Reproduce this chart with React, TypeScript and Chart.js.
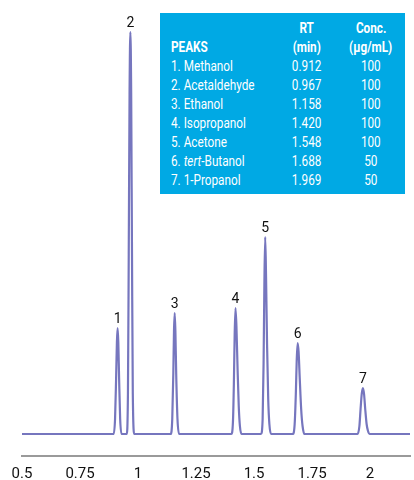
import React, { useEffect, useRef } from "react";
import { Chart, registerables } from "chart.js";

Chart.register(...registerables);

const FONT = "Roboto, 'Noto Sans', 'DejaVu Sans', sans-serif";

// Chromatogram trace (retention time in min, detector signal in arbitrary units)
const times = [
  0.5, 0.7, 0.895, 0.901, 0.9055, 0.909, 0.912, 0.915, 0.9185, 0.923, 0.929,
  0.94, 0.951, 0.9565, 0.96, 0.9635, 0.967, 0.9705, 0.974, 0.9775, 0.984,
  1.05, 1.141, 1.1475, 1.152, 1.155, 1.158, 1.161, 1.1645, 1.17, 1.177,
  1.3, 1.402, 1.409, 1.413, 1.4165, 1.42, 1.424, 1.429, 1.434, 1.439, 1.446,
  1.49, 1.53, 1.537, 1.541, 1.5445, 1.548, 1.5515, 1.556, 1.561, 1.566, 1.573,
  1.62, 1.667, 1.675, 1.68, 1.684, 1.688, 1.692, 1.697, 1.703, 1.709, 1.717,
  1.85, 1.946, 1.954, 1.959, 1.964, 1.969, 1.974, 1.979, 1.985, 1.991, 1.999,
  2.172,
];
const signal = [
  0, 0, 0, 15, 55, 92, 106, 92, 55, 15, 0,
  0, 0, 40, 180, 340, 402, 340, 180, 40, 0,
  0, 0, 15, 60, 103, 121, 103, 60, 15, 0,
  0, 0, 12, 50, 100, 126, 108, 65, 28, 8, 0,
  0, 0, 15, 70, 150, 197, 160, 90, 35, 10, 0,
  0, 0, 10, 40, 75, 91, 82, 55, 25, 8, 0,
  0, 0, 8, 25, 40, 46, 40, 25, 10, 3, 0,
  0,
];

// Peak table
const peakNumbers = ["1", "2", "3", "4", "5", "6", "7"];
const peakNames = ["Methanol", "Acetaldehyde", "Ethanol", "Isopropanol", "Acetone", "tert-Butanol", "1-Propanol"];
const peakRT = [0.912, 0.967, 1.158, 1.42, 1.548, 1.688, 1.969];
const peakRTLabels = ["0.912", "0.967", "1.158", "1.420", "1.548", "1.688", "1.969"];
const peakConc = [100, 100, 100, 100, 100, 50, 50];
const peakHeights = [106, 402, 121, 126, 197, 91, 46];

// Axis
const xTickValues = [0.5, 0.75, 1, 1.25, 1.5, 1.75, 2];
const xTickLabels = ["0.5", "0.75", "1", "1.25", "1.5", "1.75", "2"];

const peakLabelPlugin = {
  id: "peakLabels",
  afterDatasetsDraw(chart: any) {
    const { ctx, scales } = chart;
    const x = scales.x;
    const y = scales.y;
    ctx.save();
    ctx.font = `14px ${FONT}`;
    ctx.fillStyle = "#111111";
    ctx.textAlign = "center";
    ctx.textBaseline = "alphabetic";
    peakRT.forEach((rt, i) => {
      ctx.fillText(peakNumbers[i], x.getPixelForValue(rt), y.getPixelForValue(peakHeights[i]) - 5);
    });
    ctx.restore();
  },
};

function renderName(name: string) {
  if (name.startsWith("tert-")) {
    return (
      <>
        <i>tert</i>
        {name.slice(4)}
      </>
    );
  }
  return name;
}

const SQUEEZE = 0.84;

function Cell({ left, width, align, children }: any) {
  const isLeft = align === "left";
  return (
    <span
      style={{
        position: "absolute",
        left,
        width,
        textAlign: isLeft ? "left" : "center",
        whiteSpace: "nowrap",
      }}
    >
      <span
        style={{
          display: "inline-block",
          transform: `scaleX(${SQUEEZE})`,
          transformOrigin: isLeft ? "left center" : "center center",
        }}
      >
        {children}
      </span>
    </span>
  );
}

export default function App() {
  const canvasRef = useRef<HTMLCanvasElement | null>(null);

  useEffect(() => {
    document.body.style.margin = "0";
    document.body.style.background = "#ffffff";
    const canvas = canvasRef.current;
    if (!canvas) return;
    const chart = new Chart(canvas, {
      type: "line",
      data: {
        datasets: [
          {
            data: times.map((t, i) => ({ x: t, y: signal[i] })),
            borderColor: "#7676be",
            borderWidth: 2.2,
            pointRadius: 0,
            pointHoverRadius: 0,
            pointBorderWidth: 0,
            fill: false,
            cubicInterpolationMode: "monotone",
          },
        ],
      },
      options: {
        responsive: false,
        animation: false,
        layout: { padding: { left: 22, right: 4, top: 10, bottom: 0 } },
        plugins: { legend: { display: false }, tooltip: { enabled: false } },
        scales: {
          x: {
            type: "linear",
            min: 0.5,
            max: 2.172,
            afterBuildTicks: (s: any) => {
              s.ticks = xTickValues.map((v) => ({ value: v }));
            },
            afterFit: (s: any) => {
              s.height = 24;
            },
            grid: { display: false, drawTicks: false },
            border: { display: true, color: "#9a9a9a", width: 2 },
            ticks: {
              autoSkip: false,
              maxRotation: 0,
              padding: 9,
              color: "#111111",
              font: { family: FONT, size: 15, lineHeight: 1.2 },
              callback: (_v: any, index: number) => xTickLabels[index],
            },
          },
          y: { display: false, min: -22, max: 424 },
        },
      },
      plugins: [peakLabelPlugin],
    } as any);
    return () => chart.destroy();
  }, []);

  const rowStyle: React.CSSProperties = { position: "relative", height: 19, lineHeight: "19px" };

  return (
    <div style={{ position: "relative", width: 414, height: 480, background: "#fff" }}>
      <canvas ref={canvasRef} width={414} height={480} style={{ display: "block" }} />
      <div
        style={{
          position: "absolute",
          left: 160,
          top: 13,
          width: 245,
          height: 181,
          background: "#00a9e4",
          color: "#ffffff",
          fontFamily: FONT,
          fontSize: 14,
          boxSizing: "border-box",
          paddingTop: 6,
        }}
      >
        <div style={{ ...rowStyle, fontWeight: "bold" }}>
          <Cell left={117} width={60}>RT</Cell>
          <Cell left={181} width={60}>Conc.</Cell>
        </div>
        <div style={{ ...rowStyle, fontWeight: "bold" }}>
          <Cell left={11} align="left">PEAKS</Cell>
          <Cell left={117} width={60}>(min)</Cell>
          <Cell left={181} width={60}>(µg/mL)</Cell>
        </div>
        {peakNames.map((name, i) => (
          <div key={name} style={rowStyle}>
            <Cell left={11} align="left">
              {peakNumbers[i]}. {renderName(name)}
            </Cell>
            <Cell left={117} width={60}>{peakRTLabels[i]}</Cell>
            <Cell left={181} width={60}>{peakConc[i]}</Cell>
          </div>
        ))}
      </div>
    </div>
  );
}
